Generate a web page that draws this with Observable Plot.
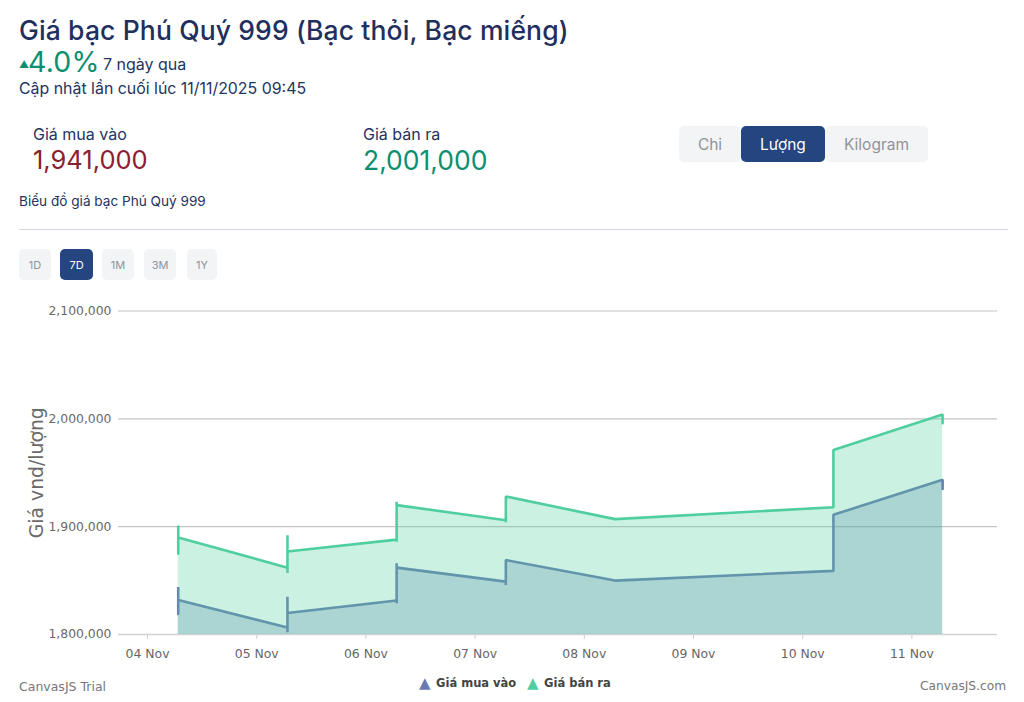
<!DOCTYPE html>
<html lang="vi">
<head>
<meta charset="utf-8">
<script src="https://cdn.jsdelivr.net/npm/d3@7"></script>
<script src="https://cdn.jsdelivr.net/npm/@observablehq/plot@0.6"></script>
<style>
html,body{margin:0;padding:0;background:#fff;width:1024px;height:702px;overflow:hidden}
.t{position:absolute;white-space:nowrap;font-family:Inter,"Noto Sans",sans-serif;color:#23345f;line-height:1}
.b{position:absolute;display:flex;align-items:center;justify-content:center;font-family:Inter,"Noto Sans",sans-serif;background:#f3f4f6;color:#8f939b;border-radius:5px}
.on{background:#24457f;color:#fff}
.f{position:absolute;white-space:nowrap;font-family:"DejaVu Sans",sans-serif;line-height:1}
#chart{position:absolute;left:0;top:296px}
</style>
</head>
<body>
<div class="t" style="left:19px;top:17px;font-size:26.5px;font-weight:500;color:#1f2f5e;letter-spacing:.13px">Giá bạc Phú Quý 999 (Bạc thỏi, Bạc miếng)</div>
<div class="t" style="left:19px;top:59px;font-size:10px;color:#0c8f70">▲</div>
<div class="t" style="left:28px;top:48px;font-size:28.5px;font-weight:400;color:#0c8f70;letter-spacing:.2px">4.0%</div>
<div class="t" style="left:103px;top:56px;font-size:16px">7 ngày qua</div>
<div class="t" style="left:19px;top:81px;font-size:15.9px">Cập nhật lần cuối lúc 11/11/2025 09:45</div>
<div class="t" style="left:33px;top:126px;font-size:16px">Giá mua vào</div>
<div class="t" style="left:33px;top:147px;font-size:25.5px;color:#8a2130">1,941,000</div>
<div class="t" style="left:363px;top:126px;font-size:16px">Giá bán ra</div>
<div class="t" style="left:363px;top:147px;font-size:26.5px;color:#0c8f70">2,001,000</div>
<div class="b" style="left:679px;top:126px;width:62px;height:36px;font-size:15.5px">Chi</div>
<div class="b" style="left:825px;top:126px;width:103px;height:36px;font-size:15.5px">Kilogram</div>
<div class="b on" style="left:741px;top:126px;width:84px;height:36px;font-size:15.5px">Lượng</div>
<div class="t" style="left:19px;top:195px;font-size:13.6px">Biểu đồ giá bạc Phú Quý 999</div>
<div style="position:absolute;left:19px;top:229px;width:989px;height:1px;background:#d2d4e2"></div>
<div class="b" style="left:19px;top:249px;width:32px;height:31px;font-size:11px">1D</div>
<div class="b on" style="left:60px;top:249px;width:33px;height:31px;font-size:11px">7D</div>
<div class="b" style="left:102px;top:249px;width:32px;height:31px;font-size:11px">1M</div>
<div class="b" style="left:144px;top:249px;width:32px;height:31px;font-size:11px">3M</div>
<div class="b" style="left:187px;top:249px;width:30px;height:31px;font-size:11px">1Y</div>
<div id="chart"></div>
<div class="f" style="left:19px;top:681px;font-size:12.5px;color:#777">CanvasJS Trial</div>
<div class="f" style="right:18px;top:680px;font-size:12.2px;color:#777">CanvasJS.com</div>
<div class="f" style="left:419px;top:676px;font-size:15px;color:#6b7ab2">▲</div>
<div class="f" style="left:436px;top:678px;font-size:11.5px;font-weight:700;color:#444">Giá mua vào</div>
<div class="f" style="left:527px;top:676px;font-size:15px;color:#4fcf9f">▲</div>
<div class="f" style="left:544px;top:678px;font-size:11.5px;font-weight:700;color:#444">Giá bán ra</div>
<script>
const tickDates = ["2025-11-04","2025-11-05","2025-11-06","2025-11-07","2025-11-08","2025-11-09","2025-11-10","2025-11-11"];
const yTicks = [1800000,1900000,2000000,2100000];
const xDomain = ["2025-11-03T17:37Z","2025-11-11T18:49Z"];
const buyTimes = ["11-04","11-04","11-04","11-05","11-05","11-05","11-05","11-06","11-06","11-06","11-06","11-07","11-07","11-07","11-08","11-10","11-10","11-11","11-11"];
const buyValues = [1819000,1844000,1832000,1806500,1802000,1835000,1820000,1831500,1829000,1866000,1862000,1849000,1846000,1869000,1850000,1859000,1911000,1943500,1935000];
const sellTimes = buyTimes;
const sellValues = [1875000,1901000,1890000,1862000,1857000,1892000,1877000,1888000,1886000,1923000,1920000,1906000,1904000,1928000,1907000,1918000,1971000,2004000,1996000];
const BLUE = "#6b7ab2", GREEN = "#4fcf9f", BASE = 1800000;

const toDate = s => new Date(`2025-${s}T06:45Z`);
const buy = buyTimes.map((t,i)=>({x:toDate(t),y:buyValues[i]}));
const sell = sellTimes.map((t,i)=>({x:toDate(t),y:sellValues[i]}));
const ticks = tickDates.map(d=>new Date(d+"T00:00Z"));

const plot = Plot.plot({
  width:1024, height:370,
  marginLeft:118, marginRight:27, marginTop:14.5, marginBottom:32,
  style:{fontFamily:"DejaVu Sans, sans-serif",background:"transparent",overflow:"visible"},
  x:{type:"utc",domain:xDomain.map(d=>new Date(d))},
  y:{domain:[BASE,2100000]},
  marks:[
    Plot.ruleY(yTicks.slice(1),{stroke:"#c4c4c4",strokeWidth:1.2}),
    Plot.ruleY([BASE],{stroke:"#d2d2d2",strokeWidth:1.4}),
    Plot.axisX({ticks,tickFormat:d3.utcFormat("%d Nov"),tickSize:5,tickPadding:10,stroke:"#cfcfcf",fill:"#666",fontSize:12.4,label:null}),
    Plot.axisY({ticks:yTicks,tickFormat:d3.format(","),tickSize:0,tickPadding:7,fill:"#6a6a6a",fontSize:12.4,label:null}),
    Plot.text(["Giá vnd/lượng"],{frameAnchor:"left",textAnchor:"middle",dx:-82,rotate:-90,fill:"#6a6a6a",fontSize:18.8}),
    Plot.areaY(buy,{x:"x",y1:BASE,y2:"y",fill:BLUE,fillOpacity:.3}),
    Plot.lineY(buy,{x:"x",y:"y",stroke:BLUE,strokeWidth:2.6,strokeLinejoin:"miter"}),
    Plot.areaY(sell,{x:"x",y1:BASE,y2:"y",fill:GREEN,fillOpacity:.3}),
    Plot.lineY(sell,{x:"x",y:"y",stroke:GREEN,strokeWidth:2.6,strokeLinejoin:"miter"})
  ]
});
document.getElementById("chart").appendChild(plot);
</script>
</body>
</html>
